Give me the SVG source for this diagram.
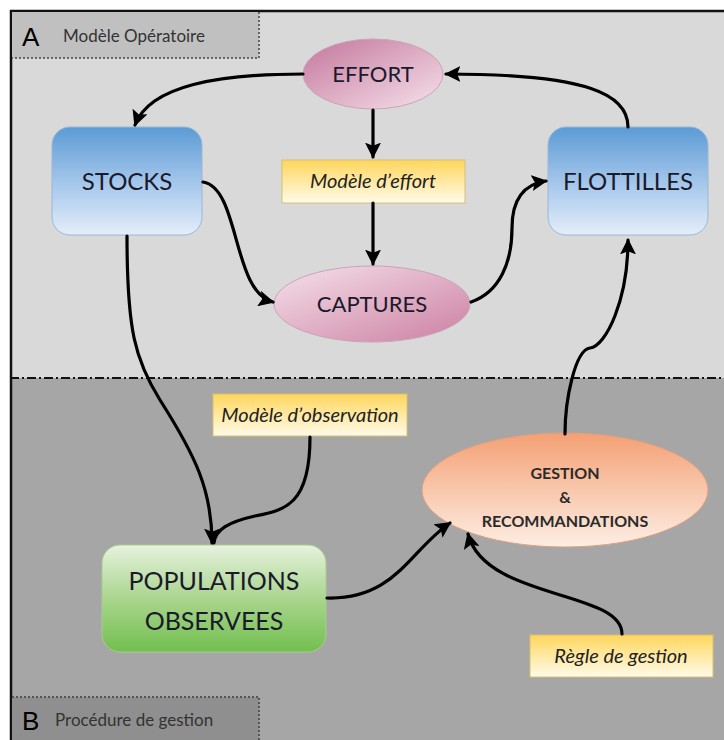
<svg xmlns="http://www.w3.org/2000/svg" width="724" height="740" viewBox="0 0 724 740">
<defs>
<linearGradient id="gBlue" x1="0" y1="0" x2="0" y2="1"><stop offset="0" stop-color="#5b9bd5"/><stop offset="0.55" stop-color="#a9c9ec"/><stop offset="1" stop-color="#e4eefa"/></linearGradient>
<linearGradient id="gGreen" x1="0" y1="0" x2="0" y2="1"><stop offset="0" stop-color="#e6f2de"/><stop offset="0.5" stop-color="#aad58e"/><stop offset="1" stop-color="#72bf4f"/></linearGradient>
<linearGradient id="gYellow" x1="0" y1="0" x2="0" y2="1"><stop offset="0" stop-color="#ffd65c"/><stop offset="1" stop-color="#fffbea"/></linearGradient>
<linearGradient id="gOrange" x1="0" y1="0" x2="0" y2="1"><stop offset="0" stop-color="#f4a074"/><stop offset="1" stop-color="#fdeee4"/></linearGradient>
<linearGradient id="gPink1" x1="0" y1="0" x2="1" y2="1"><stop offset="0" stop-color="#c4769c"/><stop offset="1" stop-color="#f6e2eb"/></linearGradient>
<linearGradient id="gPink2" x1="0" y1="0" x2="1" y2="1"><stop offset="0" stop-color="#f5e1ea"/><stop offset="1" stop-color="#cc7fa2"/></linearGradient>
<marker id="arr" viewBox="0 0 10 10" refX="9" refY="5" markerWidth="5" markerHeight="5" orient="auto" markerUnits="strokeWidth">
<path d="M0,0 L10,5 L0,10 L2,5 Z" fill="#000"/>
</marker>
</defs>
<style>
.lbl{font-family:Lato,"Open Sans",sans-serif;fill:#1a1a2a;text-anchor:middle}
.big{font-size:24px}
.pop{font-size:25px}
.mid{font-size:22px}
.ital{font-family:Lato,"Open Sans",sans-serif;font-style:italic;font-size:20px;fill:#222;text-anchor:middle}
.bold{font-family:Lato,"Open Sans",sans-serif;font-weight:bold;font-size:16px;fill:#2a2a2a;text-anchor:middle}
.conn path{fill:none;stroke:#000;stroke-width:3.2;stroke-linecap:round}
.sec{font-family:Lato,"Open Sans",sans-serif;font-size:17px;fill:#333}
.letter{font-family:"Liberation Sans",sans-serif;font-size:26px;fill:#000}
.pill{stroke:#c9a4b8;stroke-width:1}
.box{stroke:#9ab8d8;stroke-width:1}
.note{stroke:#d8c070;stroke-width:1}
</style>
<rect x="0" y="0" width="724" height="740" fill="#ffffff"/>
<rect x="10" y="10" width="714" height="368" fill="#d9d9d9"/>
<rect x="10" y="378" width="714" height="362" fill="#a6a6a6"/>
<line x1="10" y1="378" x2="724" y2="378" stroke="#111" stroke-width="2" stroke-dasharray="9,3,2,3"/>
<path d="M11,740 L11,11 L724,11" fill="none" stroke="#111" stroke-width="2.5"/>
<g id="sectionA">
<rect x="12" y="12" width="247" height="46" fill="#c0c0c0"/>
<path d="M259,12 L259,58 L12,58" fill="none" stroke="#666" stroke-width="2" stroke-dasharray="2,2"/>
<text class="letter" x="22" y="46">A</text>
<text class="sec" x="63" y="42">Modèle Opératoire</text>
</g>
<g id="sectionB">
<rect x="12" y="697" width="247" height="43" fill="#8f8f8f"/>
<path d="M12,697 L259,697 L259,740" fill="none" stroke="#555" stroke-width="2" stroke-dasharray="2,2"/>
<text class="letter" x="22" y="730">B</text>
<text class="sec" x="55" y="726">Procédure de gestion</text>
</g>
<g id="effort">
<ellipse class="pill" cx="373" cy="74" rx="70" ry="35" fill="url(#gPink1)"/>
<text class="lbl mid" x="373" y="82">EFFORT</text>
</g>
<g id="stocks">
<rect class="box" x="52" y="127" width="150" height="108" rx="18" fill="url(#gBlue)"/>
<text class="lbl big" x="127" y="190">STOCKS</text>
</g>
<g id="flottilles">
<rect class="box" x="548" y="127" width="160" height="108" rx="18" fill="url(#gBlue)"/>
<text class="lbl big" x="628" y="190">FLOTTILLES</text>
</g>
<g id="modele-effort">
<rect class="note" x="282" y="160" width="183" height="43" fill="url(#gYellow)"/>
<text class="ital" x="373" y="188">Modèle d’effort</text>
</g>
<g id="captures">
<ellipse class="pill" cx="372" cy="304" rx="98" ry="38" fill="url(#gPink2)"/>
<text class="lbl mid" x="372" y="312">CAPTURES</text>
</g>
<g id="modele-observation">
<rect class="note" x="213" y="394" width="194" height="42" fill="url(#gYellow)"/>
<text class="ital" x="310" y="422">Modèle d’observation</text>
</g>
<g id="gestion">
<ellipse cx="565" cy="490" rx="143" ry="57" fill="url(#gOrange)" stroke="#e0a080" stroke-width="1"/>
<text class="bold" x="565" y="479">GESTION</text>
<text class="bold" x="565" y="503">&amp;</text>
<text class="bold" x="565" y="527">RECOMMANDATIONS</text>
</g>
<g id="populations">
<rect x="102" y="545" width="224" height="107" rx="18" fill="url(#gGreen)" stroke="#a8cc90" stroke-width="1"/>
<text class="lbl pop" x="214" y="590">POPULATIONS</text>
<text class="lbl pop" x="214" y="630">OBSERVEES</text>
</g>
<g id="regle-gestion">
<rect class="note" x="530" y="635" width="183" height="42" fill="url(#gYellow)"/>
<text class="ital" x="621" y="663">Règle de gestion</text>
</g>
<g class="conn" id="connectors">
<path d="M303,74 C220,74 150,85 135,125" marker-end="url(#arr)"/>
<path d="M628,127 C628,95 590,74 446,74" marker-end="url(#arr)"/>
<path d="M373,110 L373,157" marker-end="url(#arr)"/>
<path d="M373,203 L373,264" marker-end="url(#arr)"/>
<path d="M203,182 C240,188 232,292 273,302" marker-end="url(#arr)"/>
<path d="M471,302 C500,292 512,262 512,228 C512,198 525,184 546,181" marker-end="url(#arr)"/>
<path d="M127,236 C127,330 135,360 160,400 C195,455 212,490 212,543" marker-end="url(#arr)"/>
<path d="M310,437 C310,505 285,510 255,516 C228,522 215,530 214,543"/>
<path d="M565,434 C565,400 575,350 590,348 C606,346 628,300 628,240" marker-end="url(#arr)"/>
<path d="M327,598 C395,600 410,550 450,523" marker-end="url(#arr)"/>
<path d="M622,634 C622,590 485,600 468,534" marker-end="url(#arr)"/>
</g>
</svg>
